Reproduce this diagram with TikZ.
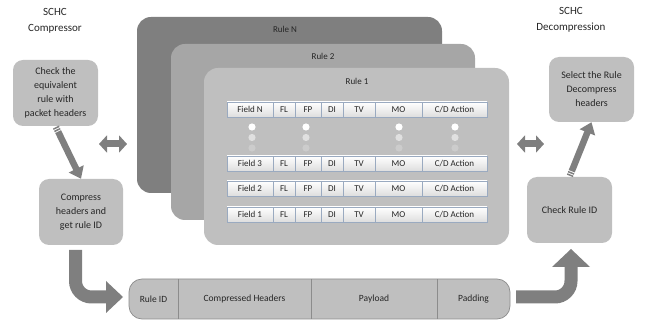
\documentclass[tikz,border=0pt]{standalone}
\usepackage{fontspec}
\setmainfont{Carlito}
\usetikzlibrary{arrows.meta,calc}
\definecolor{ruleN}{HTML}{7F7F7F}
\definecolor{ruleB}{HTML}{A6A6A6}
\definecolor{ruleA}{HTML}{BFBFBF}
\definecolor{boxfill}{HTML}{BFBFBF}
\definecolor{arrowgray}{HTML}{7F7F7F}
\definecolor{cellborder}{HTML}{9AAAC0}
\definecolor{txt}{HTML}{262626}
\definecolor{barborder}{HTML}{8C8C8C}
\tikzset{
  x=1pt,y=-1pt,
  rulecard/.style={rounded corners=14pt},
  procbox/.style={draw=none,fill=boxfill,rounded corners=10pt,align=center,text=txt,font=\fontsize{10}{14}\selectfont,inner sep=0pt},
  cell/.style={draw=cellborder,line width=0.6pt,top color=white,bottom color=black!13,text=txt,font=\fontsize{9}{10}\selectfont,inner sep=0pt,minimum height=15pt},
  title/.style={align=center,text=txt,font=\fontsize{11}{16}\selectfont},
  rulelabel/.style={text=txt,font=\fontsize{9}{10}\selectfont},
  thinarrow/.style={draw=arrowgray,line width=6.5pt,-{Triangle[length=11pt,width=16pt]}},
  stripe/.style={draw=arrowgray,line width=6.5pt},
  dblarrow/.style={draw=arrowgray,line width=7pt,{Triangle[length=8pt,width=17pt]}-{Triangle[length=8pt,width=17pt]}},
  bentarrow/.style={draw=arrowgray,line width=13pt,rounded corners=16pt},
  barcell/.style={text=txt,font=\fontsize{9.5}{10}\selectfont},
  dotA/.style={fill=white,draw=none},
  dotB/.style={fill=black!12,draw=none},
  dotC/.style={fill=black!20,draw=none},
}
\begin{document}
\begin{tikzpicture}
\useasboundingbox (0,0) rectangle (646,323);
% rule cards
\fill[ruleN,rulecard] (137,17) rectangle (442,193);
\node[rulelabel] (lrN) at (285,29) {Rule N};
\fill[ruleB,rulecard] (171,44) rectangle (475,220);
\node[rulelabel] (lr2) at (323,56) {Rule 2};
\fill[ruleA,rulecard] (204,68) rectangle (509,245);
\node[rulelabel] (lr1) at (357,81) {Rule 1};
% table rows
\foreach \nm/\yt/\lab in {rN/102/Field N, r3/156/Field 3, r2/181/Field 2, r1/207/Field 1}{
  \node[cell,minimum width=46pt] (\nm-f) at (250,\yt+7.5) {\lab};
  \foreach \a/\b/\t [count=\i] in {273/295/FL, 295/321/FP, 321/343/DI, 343/375/TV, 375/422/MO, 422/487/{C/D Action}}{
    \node[cell,minimum width=\b-\a] (\nm-\i) at ({(\a+\b)/2},\yt+7.5) {\t};
  }
}
% dots
\foreach \x in {252,306,399,455}{
  \fill[dotA] (\x,127) circle (3.6);
  \fill[dotB] (\x,137.5) circle (3.6);
  \fill[dotC] (\x,148) circle (3.6);
}
% titles
\node[title] (tc) at (55,21) {SCHC\\Compressor};
\node[title] (td) at (571,20) {SCHC\\Decompression};
% process boxes
\node[procbox,minimum width=85pt,minimum height=66pt] (check) at (55.5,93) {Check the\\equivalent\\rule with\\packet headers};
\node[procbox,minimum width=84pt,minimum height=66pt] (comp) at (81,212) {Compress\\headers and\\get rule ID};
\node[procbox,minimum width=85pt,minimum height=65pt] (select) at (591.5,89.5) {Select the Rule\\Decompress\\headers};
\node[procbox,minimum width=85pt,minimum height=66pt] (checkid) at (569.5,210) {Check Rule ID};
% bottom bar
\node[draw=barborder,fill=boxfill,rounded corners=13pt,line width=0.7pt,minimum width=381pt,minimum height=40pt,inner sep=0pt] (bar) at (319.5,299) {};
\draw[barborder,line width=0.7pt] (178,279) -- (178,319) (311,279) -- (311,319) (437,279) -- (437,319);
\node[barcell] (b1) at (153.5,299) {Rule ID};
\node[barcell] (b2) at (244.5,299) {Compressed Headers};
\node[barcell] (b3) at (374,299) {Payload};
\node[barcell] (b4) at (473.5,299) {Padding};
% diagonal arrows with striped starts
\draw[stripe] ($(check.south)!1pt!(comp.north)$) -- ($(check.south)!2.5pt!(comp.north)$);
\draw[stripe] ($(check.south)!3.5pt!(comp.north)$) -- ($(check.south)!5pt!(comp.north)$);
\draw[thinarrow] ($(check.south)!6pt!(comp.north)$) -- (comp.north);
\draw[stripe] ($(checkid.north)!1pt!(select.south)$) -- ($(checkid.north)!2.5pt!(select.south)$);
\draw[stripe] ($(checkid.north)!3.5pt!(select.south)$) -- ($(checkid.north)!5pt!(select.south)$);
\draw[thinarrow] ($(checkid.north)!6pt!(select.south)$) -- (select.south);
% double arrows
\coordinate (dl1) at (99,144);
\coordinate (dl2) at (127,144);
\draw[dblarrow] (dl1) -- (dl2);
\coordinate (dr1) at (517,144);
\coordinate (dr2) at (544,144);
\draw[dblarrow] (dr1) -- (dr2);
% bent arrows
\coordinate (bl0) at (75.5,250);
\coordinate (bl1) at (75.5,297);
\coordinate (bl2) at (107,297);
\draw[bentarrow] (bl0) -- (bl1) -- (bl2);
\fill[arrowgray] (106,281) -- (123,297) -- (106,313) -- cycle;
\coordinate (br0) at (516,297);
\coordinate (br1) at (571,297);
\coordinate (br2) at (571,266);
\draw[bentarrow] (br0) -- (br1) -- (br2);
\fill[arrowgray] (552,267) -- (571,249) -- (590,267) -- cycle;
\end{tikzpicture}
\end{document}
